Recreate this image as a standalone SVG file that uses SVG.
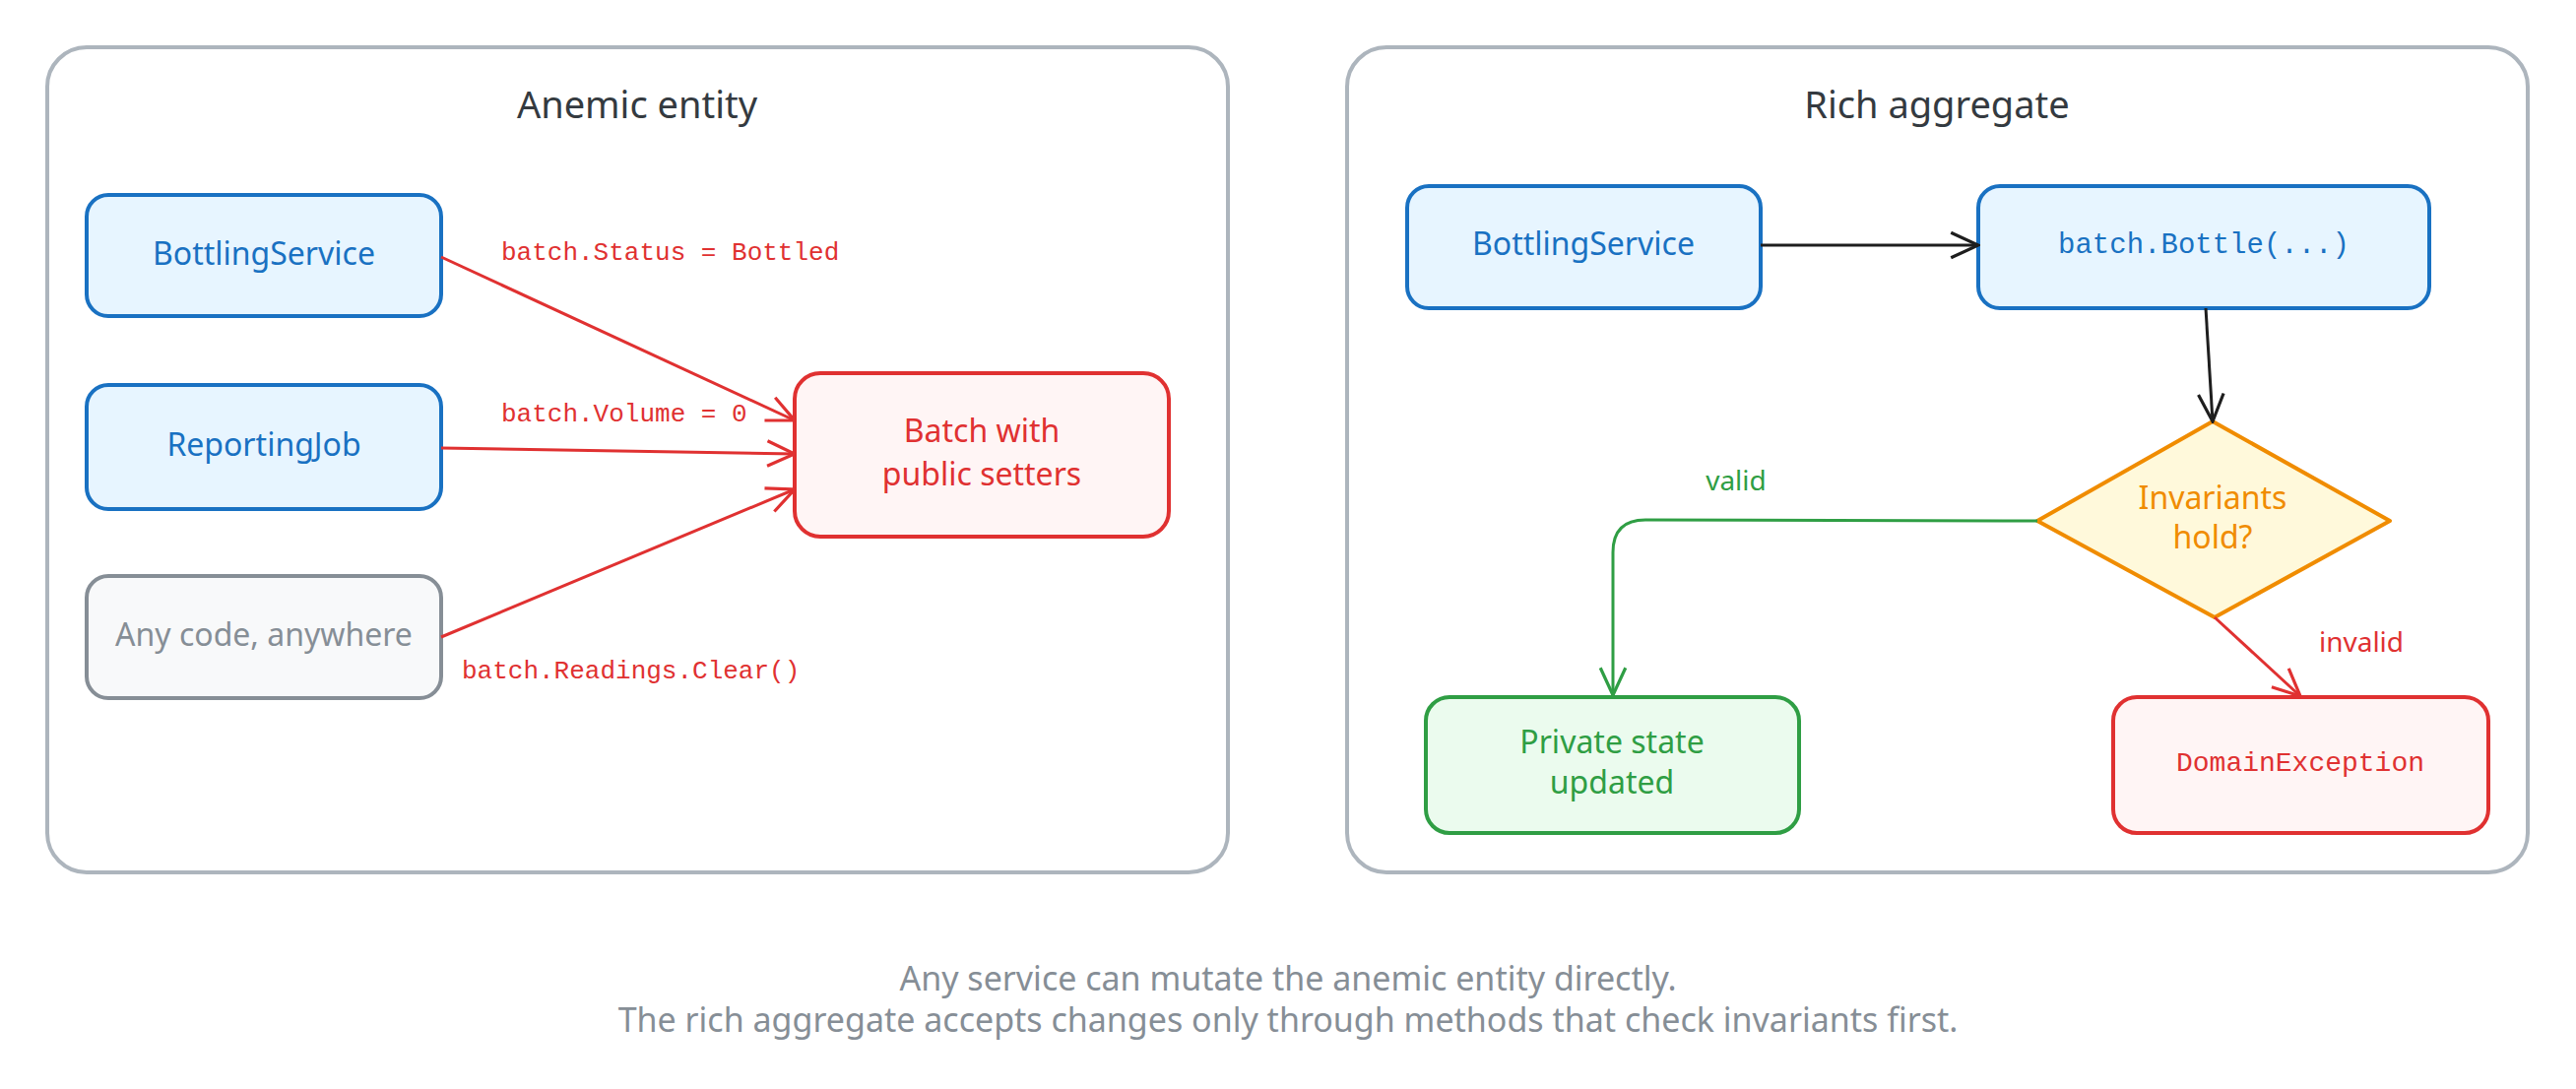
<svg xmlns="http://www.w3.org/2000/svg" width="2616" height="1106" viewBox="0 0 2616 1106">
<defs>
<style>
.panel{fill:#fff;stroke:#adb5bd;stroke-width:4}
.title{font-family:"Noto Sans",sans-serif;font-size:38px;fill:#343a40;text-anchor:middle}
.hand{font-family:"Noto Sans",sans-serif;font-size:32px;text-anchor:middle;dominant-baseline:middle}
.mono{font-family:"Liberation Mono",monospace;font-size:26px;dominant-baseline:middle}
.blue rect{fill:#e7f5ff;stroke:#1971c2;stroke-width:4}
.blue text{fill:#1971c2}
.red rect{fill:#fff5f5;stroke:#e03131;stroke-width:4}
.red text{fill:#e03131}
.gray rect{fill:#f8f9fa;stroke:#868e96;stroke-width:4}
.gray text{fill:#868e96}
.green rect{fill:#ebfbee;stroke:#2f9e44;stroke-width:4}
.green text{fill:#2f9e44}
.c{fill:none;stroke-width:3}
.foot{font-family:"Noto Sans",sans-serif;font-size:34px;fill:#868e96;text-anchor:middle}
</style>
<marker id="ar" viewBox="0 0 30 30" refX="28" refY="15" markerWidth="32" markerHeight="32" markerUnits="userSpaceOnUse" orient="auto"><path d="M2,3 L28,15 L2,27" fill="none" stroke="#e03131" stroke-width="3"/></marker>
<marker id="ak" viewBox="0 0 30 30" refX="28" refY="15" markerWidth="32" markerHeight="32" markerUnits="userSpaceOnUse" orient="auto"><path d="M2,3 L28,15 L2,27" fill="none" stroke="#1e1e1e" stroke-width="3"/></marker>
<marker id="ag" viewBox="0 0 30 30" refX="28" refY="15" markerWidth="32" markerHeight="32" markerUnits="userSpaceOnUse" orient="auto"><path d="M2,3 L28,15 L2,27" fill="none" stroke="#2f9e44" stroke-width="3"/></marker>
</defs>
<g id="panel-anemic"><rect class="panel" x="48" y="48" width="1199" height="838" rx="40"/><text class="title" x="647" y="120">Anemic entity</text></g>
<g id="panel-rich"><rect class="panel" x="1368" y="48" width="1199" height="838" rx="40"/><text class="title" x="1967" y="120">Rich aggregate</text></g>
<g id="n-bottling1" class="blue"><rect x="88" y="198" width="360" height="123" rx="22"/><text class="hand" x="268" y="260">BottlingService</text></g>
<g id="n-reporting" class="blue"><rect x="88" y="391" width="360" height="126" rx="22"/><text class="hand" x="268" y="454">ReportingJob</text></g>
<g id="n-anycode" class="gray"><rect x="88" y="585" width="360" height="124" rx="22"/><text class="hand" x="268" y="647">Any code, anywhere</text></g>
<g id="n-batch" class="red"><rect x="807" y="379" width="380" height="166" rx="26"/><text class="hand" x="997" y="440">Batch with</text><text class="hand" x="997" y="484">public setters</text></g>
<g id="n-bottling2" class="blue"><rect x="1429" y="189" width="359" height="124" rx="22"/><text class="hand" x="1608" y="250">BottlingService</text></g>
<g id="n-bottle" class="blue"><rect x="2009" y="189" width="458" height="124" rx="22"/><text class="mono" x="2238" y="249" text-anchor="middle" style="fill:#1971c2;font-size:29px">batch.Bottle(...)</text></g>
<g id="n-inv"><polygon points="2247,428 2427,529 2249,627 2069,529" fill="#fff9db" stroke="#f08c00" stroke-width="4" stroke-linejoin="round"/><text class="hand" x="2247" y="508" fill="#f08c00">Invariants</text><text class="hand" x="2247" y="548" fill="#f08c00">hold?</text></g>
<g id="n-private" class="green"><rect x="1448" y="708" width="379" height="138" rx="24"/><text class="hand" x="1637" y="756">Private state</text><text class="hand" x="1637" y="797">updated</text></g>
<g id="n-domain" class="red"><rect x="2146" y="708" width="381" height="138" rx="24"/><text class="mono" x="2336" y="776" text-anchor="middle" style="fill:#e03131;font-size:28px">DomainException</text></g>
<g id="connectors">
<path class="c" stroke="#e03131" d="M448,261 L807,427" marker-end="url(#ar)"/>
<path class="c" stroke="#e03131" d="M448,455 L807,461" marker-end="url(#ar)"/>
<path class="c" stroke="#e03131" d="M448,647 L807,497" marker-end="url(#ar)"/>
<path class="c" stroke="#1e1e1e" d="M1788,249 L2009,249" marker-end="url(#ak)"/>
<path class="c" stroke="#1e1e1e" d="M2240,313 L2247,428" marker-end="url(#ak)"/>
<path class="c" stroke="#2f9e44" d="M2069,529 L1671,528 Q1638,528 1638,561 L1638,706" marker-end="url(#ag)"/>
<path class="c" stroke="#e03131" d="M2249,627 L2336,707" marker-end="url(#ar)"/>
<text class="mono" x="509" y="257" fill="#e03131">batch.Status = Bottled</text>
<text class="mono" x="509" y="421" fill="#e03131">batch.Volume = 0</text>
<text class="mono" x="469" y="682" fill="#e03131">batch.Readings.Clear()</text>
<text class="hand" x="1763" y="490" style="font-size:28px" fill="#2f9e44">valid</text>
<text class="hand" x="2398" y="654" style="font-size:28px" fill="#e03131">invalid</text>
</g>
<g id="footer"><text class="foot" x="1308" y="1006">Any service can mutate the anemic entity directly.</text><text class="foot" x="1308" y="1048">The rich aggregate accepts changes only through methods that check invariants first.</text></g>
</svg>
